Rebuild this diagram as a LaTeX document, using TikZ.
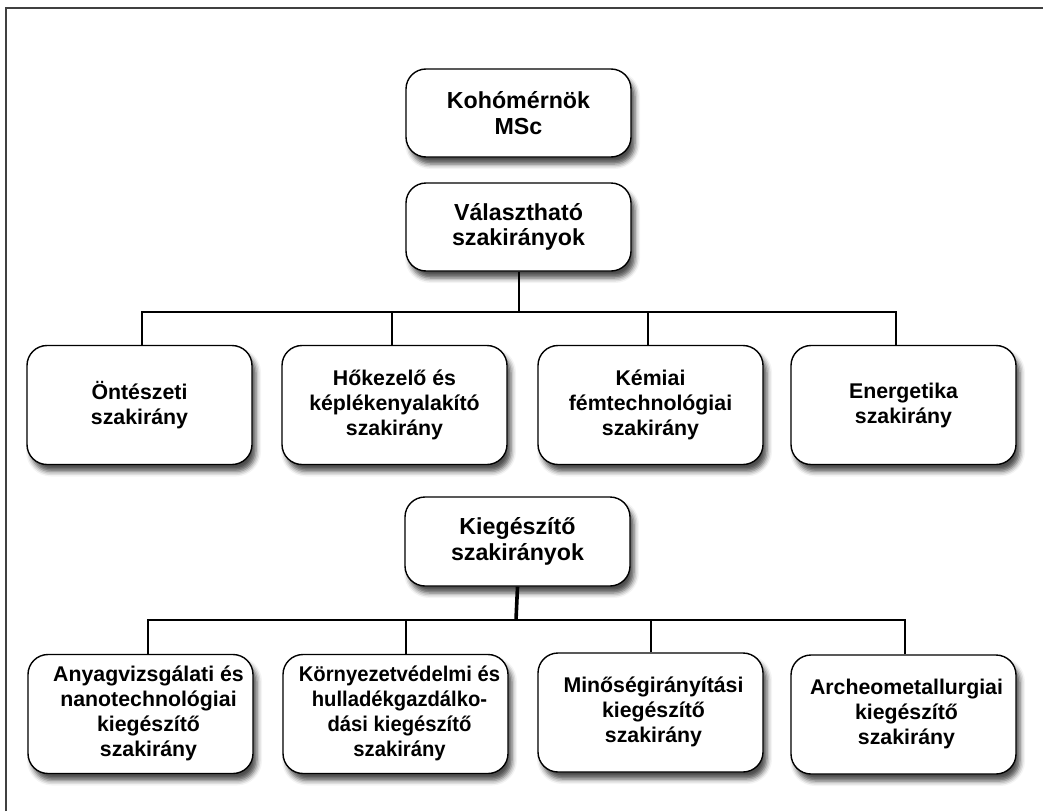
\documentclass[tikz,border=0pt]{standalone}
\usepackage{fontspec}
\setmainfont{Liberation Sans}
\newfontfamily\narrowfont[FakeStretch=0.95]{Liberation Sans Bold}
\usetikzlibrary{shadows.blur}
\newcommand\shiftedtext[2]{\hspace*{#1}\begin{tabular}{@{}c@{}}#2\end{tabular}}
\tikzset{
  box/.style={draw=black, line width=1.4pt, fill=white, rounded corners=20pt,
    align=center, inner sep=2pt,
    font=\fontsize{21.3}{25}\selectfont\bfseries,
    blur shadow={shadow xshift=4pt, shadow yshift=-7pt, shadow blur radius=5pt, shadow opacity=70}},
  topbox/.style={box, minimum width=225pt, minimum height=88pt,
    font=\fontsize{23.2}{25.5}\selectfont\bfseries},
  rowbox/.style={box, minimum width=225pt, minimum height=119pt},
  lowbox/.style={rowbox},
  conn/.style={draw=black, line width=2pt},
  thickconn/.style={draw=black, line width=3.6pt},
  frame/.style={draw=black!75, line width=1.3pt}
}
\begin{document}
\begin{tikzpicture}[x=1pt, y=-1pt]
\useasboundingbox (0,0) rectangle (1043,811);
\draw[frame] (6,811) -- (6,8) -- (1043,8);

\node[topbox] (koho) at (518.5,113) {Kohómérnök\\MSc};
\node[topbox] (val) at (518.5,227) {Választható\\szakirányok};

\node[rowbox] (ont) at (139.5,405) {Öntészeti\\szakirány};
\node[rowbox] (hok) at (394.5,405) {Hőkezelő és\\képlékenyalakító\\szakirány};
\node[rowbox] (kem) at (650.5,405) {Kémiai\\fémtechnológiai\\szakirány};
\node[rowbox] (ene) at (903.5,405) {Energetika\\szakirány};

\node[topbox, minimum height=89pt] (kieg) at (517.5,541.5) {Kiegészítő\\szakirányok};

\node[lowbox] (any) at (140.5,714) {\shiftedtext{16pt}{Anyagvizsgálati és\\nanotechnológiai\\kiegészítő\\szakirány}};
\node[lowbox, font=\fontsize{21.3}{25}\selectfont\narrowfont] (kor) at (395.5,714) {\shiftedtext{8pt}{Környezetvédelmi és\\hulladékgazdálko-\\dási kiegészítő\\szakirány}};
\node[lowbox] (min) at (650.5,712.5) {\shiftedtext{6pt}{Minőségirányítási\\kiegészítő\\szakirány}};
\node[lowbox] (arc) at (903.5,714.5) {\shiftedtext{6pt}{Archeometallurgiai\\kiegészítő\\szakirány}};

\coordinate (bus1) at (518.5,312);
\coordinate (bus2) at (516,620);

\draw[conn] (val.south) -- (bus1);
\draw[conn] ([xshift=2.5pt]ont.north) |- (bus1);
\draw[conn] ([xshift=-2.5pt]hok.north) |- (bus1);
\draw[conn] ([xshift=-2.5pt]kem.north) |- (bus1);
\draw[conn] ([xshift=-7.5pt]ene.north) |- (bus1);

\draw[thickconn] (kieg.south) -- (bus2);
\draw[conn] ([xshift=7.5pt]any.north) |- (bus2);
\draw[conn] ([xshift=10.5pt]kor.north) |- (bus2);
\draw[conn] ([xshift=0.5pt]min.north) |- (bus2);
\draw[conn] ([xshift=1.5pt]arc.north) |- (bus2);
\end{tikzpicture}
\end{document}
